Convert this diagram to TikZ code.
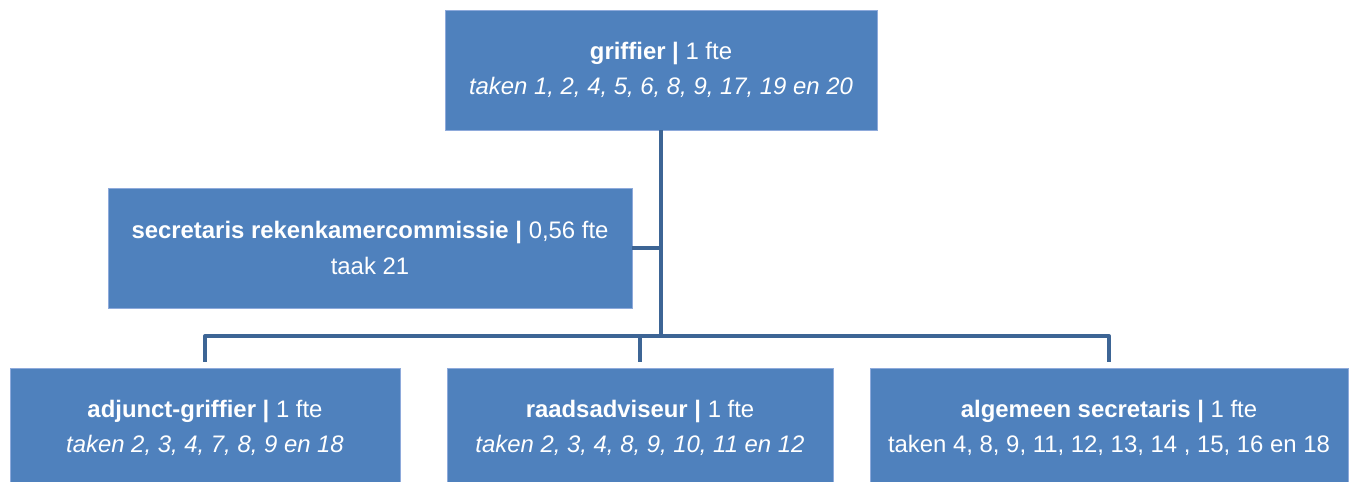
\documentclass[tikz,border=0pt]{standalone}
\usepackage{fontspec}
\setmainfont{Liberation Sans}
\definecolor{orgfill}{HTML}{4F81BD}
\definecolor{orgedge}{HTML}{8EAADB}
\definecolor{orgline}{HTML}{3D6595}
\begin{document}
\begin{tikzpicture}[x=0.02cm, y=-0.02cm,
    orgbox/.style={fill=orgfill, draw=orgedge, line width=0.4pt, text=white,
      align=center, inner sep=0pt, font=\fontsize{13.6}{20}\selectfont},
    conn/.style={draw=orgline, line width=2.3pt, line join=round}]
                \useasboundingbox (0,0) rectangle (1356,482);

                % boxes
                \node[orgbox, minimum width=8.64cm, minimum height=2.4cm] (griffier) at (661,70)
                  {\textbf{griffier |} 1 fte\\ \textit{taken 1, 2, 4, 5, 6, 8, 9, 17, 19 en 20}};
                \node[orgbox, minimum width=10.48cm, minimum height=2.4cm] (rkc) at (370,248)
                  {\textbf{secretaris rekenkamercommissie |} 0,56 fte\\ taak 21};
                \node[orgbox, minimum width=7.8cm, minimum height=2.4cm] (adjunct) at (205,428)
                  {\textbf{adjunct-griffier |} 1 fte\\ \textit{taken 2, 3, 4, 7, 8, 9 en 18}};
                \node[orgbox, minimum width=7.72cm, minimum height=2.4cm] (advies) at (640,428)
                  {\textbf{raadsadviseur |} 1 fte\\ \textit{taken 2, 3, 4, 8, 9, 10, 11 en 12}};
                \node[orgbox, minimum width=9.56cm, minimum height=2.4cm] (secr) at (1109,428)
                  {\textbf{algemeen secretaris |} 1 fte\\ taken 4, 8, 9, 11, 12, 13, 14 , 15, 16 en 18};

                % connectors
                \coordinate (split) at (661,336);
                \draw[conn] (griffier.south) -- (split);
                \draw[conn] (rkc.east) -- (rkc.east -| split);
                \draw[conn, shorten <=3.4pt, shorten >=3.4pt] (adjunct.north) |- (split) -| (secr.north);
                \draw[conn, shorten >=3.4pt] (split) -| (advies.north);
            \end{tikzpicture}
\end{document}
